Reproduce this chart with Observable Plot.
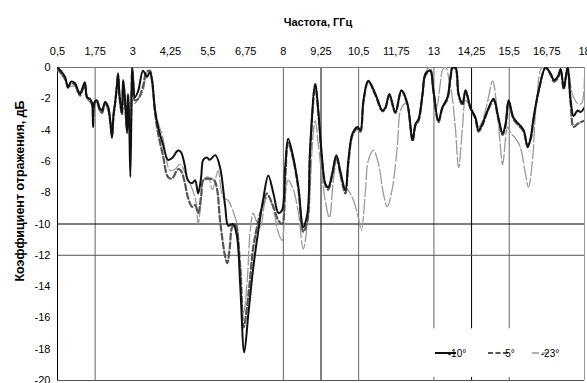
<!DOCTYPE html>
<html><head><meta charset="utf-8">
<script src="https://cdn.jsdelivr.net/npm/d3@7"></script>
<script src="https://cdn.jsdelivr.net/npm/@observablehq/plot@0.6"></script>
<style>body{margin:0;background:#fff;} #chart{width:587px;height:383px;overflow:hidden;}</style>
</head><body><div id="chart"></div>
<script>
const xTitle = "Частота, ГГц";
const yTitle = "Коэффициент отражения, дБ";
const xTicks = [0.5,1.75,3,4.25,5.5,6.75,8,9.25,10.5,11.75,13,14.25,15.5,16.75,18];
const yTicks = [0,-2,-4,-6,-8,-10,-12,-14,-16,-18,-20];
const hGrid = [-10,-12];
const vGridFull = [1.75,8,9.25,10.5];
const vGridPart = [13,14.25,15.5];
const seriesNames = ["-10°","5°","-23°"];

const s10 = [[0.5,0],[0.6,-0.2],[0.75,-0.6],[0.85,-1.3],[0.95,-0.9],[1.08,-1.0],[1.17,-1.4],[1.25,-1.7],[1.33,-1.3],[1.41,-0.95],[1.48,-1.9],[1.57,-2.0],[1.65,-2.3],[1.68,-3.8],[1.73,-2.2],[1.81,-2.1],[1.9,-2.6],[1.98,-2.75],[2.08,-2.2],[2.18,-2.5],[2.25,-3.4],[2.31,-4.5],[2.36,-3.0],[2.41,-2.3],[2.47,-1.2],[2.51,-0.4],[2.56,-1.8],[2.64,-2.9],[2.68,-0.8],[2.74,-2.0],[2.81,-4.2],[2.84,-1.7],[2.88,-3.5],[2.92,-7.0],[2.96,-2.0],[2.98,0],[3.02,-1.0],[3.07,-1.9],[3.18,-1.5],[3.34,-0.2],[3.47,-0.6],[3.57,-0.3],[3.64,-0.8],[3.74,-2.75],[3.84,-3.8],[4.0,-4.9],[4.17,-5.9],[4.3,-5.8],[4.5,-5.3],[4.6,-5.4],[4.72,-6.2],[4.83,-7.2],[4.97,-7.4],[5.07,-7.2],[5.17,-8.05],[5.27,-7.0],[5.34,-5.9],[5.46,-5.75],[5.55,-5.9],[5.74,-5.6],[5.9,-6.4],[6.07,-8.9],[6.17,-10.1],[6.33,-10.0],[6.46,-10.8],[6.57,-14],[6.7,-18.2],[6.84,-15.7],[7.0,-12.8],[7.17,-10.4],[7.34,-8.3],[7.5,-6.9],[7.67,-8.05],[7.84,-9.3],[7.96,-9.1],[8.06,-6.4],[8.16,-4.55],[8.33,-5.75],[8.5,-7.65],[8.66,-10.2],[8.8,-9.3],[8.89,-5.1],[9.06,-1.05],[9.16,-2.75],[9.29,-5.9],[9.39,-7.4],[9.49,-7.65],[9.62,-6.8],[9.76,-5.6],[9.89,-6.6],[10.06,-7.85],[10.16,-5.9],[10.3,-4.2],[10.46,-3.8],[10.56,-4.0],[10.66,-2.1],[10.82,-0.85],[11.06,-1.7],[11.29,-2.75],[11.39,-2.55],[11.52,-1.7],[11.72,-2.85],[11.92,-1.45],[12.12,-2.3],[12.29,-4.65],[12.39,-3.6],[12.49,-3.3],[12.62,-1.7],[12.72,-0.4],[12.88,-0.2],[12.98,-1.45],[13.15,-3.4],[13.28,-2.55],[13.45,-1.9],[13.55,-0.6],[13.62,0],[13.72,0],[13.82,-1.7],[13.95,-2.3],[14.05,-1.45],[14.21,-2.55],[14.38,-3.2],[14.48,-4.0],[14.61,-3.6],[14.78,-2.75],[14.98,-2.0],[15.14,-3.2],[15.28,-4.2],[15.38,-3.6],[15.48,-2.1],[15.64,-3.2],[15.81,-3.6],[15.98,-4.0],[16.11,-5.1],[16.21,-4.5],[16.31,-3.2],[16.48,-1.45],[16.71,0],[16.88,-0.4],[16.98,-0.8],[17.11,-0.6],[17.21,-0.1],[17.31,-1.3],[17.44,0],[17.54,-2.1],[17.64,-3.1],[17.77,-2.75],[17.87,-2.85],[18,-2.55]];

const s5 = [[0.5,-0.1],[0.6,-0.3],[0.75,-0.7],[0.85,-1.2],[0.95,-1.0],[1.08,-1.1],[1.17,-1.5],[1.25,-1.8],[1.33,-1.4],[1.41,-1.1],[1.48,-1.9],[1.57,-2.1],[1.65,-2.4],[1.68,-3.5],[1.73,-2.3],[1.81,-2.2],[1.9,-2.7],[1.98,-2.9],[2.08,-2.3],[2.18,-2.6],[2.25,-3.5],[2.31,-4.3],[2.36,-3.1],[2.41,-2.4],[2.47,-1.3],[2.51,-0.5],[2.56,-1.9],[2.64,-3.0],[2.68,-0.9],[2.74,-2.1],[2.81,-4.0],[2.84,-1.8],[2.88,-3.2],[2.92,-4.2],[2.96,-1.8],[2.98,-0.2],[3.02,-1.2],[3.07,-2.1],[3.18,-2.0],[3.34,-1.2],[3.45,-0.3],[3.57,-0.2],[3.64,-0.9],[3.74,-2.9],[3.84,-4.2],[4.0,-5.6],[4.17,-7.0],[4.3,-7.1],[4.5,-6.5],[4.6,-6.6],[4.72,-7.3],[4.83,-8.3],[4.97,-8.9],[5.07,-8.8],[5.17,-9.3],[5.27,-8.2],[5.34,-7.2],[5.5,-7.1],[5.7,-7.2],[5.8,-7.8],[5.9,-9.8],[6.07,-12.1],[6.14,-12.5],[6.22,-11.5],[6.3,-10.2],[6.4,-10.0],[6.57,-12.8],[6.68,-16.6],[6.84,-14.5],[7.0,-11.5],[7.17,-9.8],[7.34,-8.6],[7.45,-8.05],[7.67,-8.9],[7.84,-9.8],[7.96,-10.0],[8.06,-7.2],[8.16,-4.8],[8.33,-5.9],[8.5,-7.8],[8.66,-10.5],[8.8,-9.8],[8.89,-5.4],[9.06,-1.1],[9.16,-2.9],[9.29,-6.0],[9.39,-7.5],[9.49,-7.8],[9.62,-6.9],[9.76,-5.7],[9.89,-6.8],[10.06,-8.05],[10.16,-6.1],[10.3,-4.3],[10.46,-3.9],[10.56,-4.1],[10.66,-2.2],[10.82,-0.9],[11.06,-1.8],[11.29,-2.8],[11.39,-2.6],[11.52,-1.8],[11.72,-2.9],[11.92,-1.5],[12.12,-2.4],[12.29,-4.7],[12.39,-3.7],[12.49,-3.4],[12.62,-1.8],[12.72,-0.5],[12.88,-0.2],[12.98,-1.5],[13.15,-3.5],[13.28,-2.6],[13.45,-2.0],[13.55,-0.7],[13.62,0],[13.72,-0.1],[13.82,-1.8],[13.95,-2.4],[14.05,-1.5],[14.21,-2.6],[14.38,-3.3],[14.48,-4.1],[14.61,-3.7],[14.78,-2.8],[14.98,-2.1],[15.14,-3.3],[15.28,-4.3],[15.38,-3.7],[15.48,-2.2],[15.64,-3.3],[15.81,-3.7],[15.98,-4.1],[16.11,-5.0],[16.21,-4.6],[16.31,-3.3],[16.48,-1.5],[16.71,0],[16.88,-0.5],[16.98,-0.9],[17.11,-0.7],[17.21,-0.2],[17.31,-1.4],[17.44,0],[17.54,-2.3],[17.64,-3.8],[17.77,-3.6],[17.87,-3.5],[18,-3.4]];

const s23 = [[0.5,-0.2],[0.6,-0.4],[0.75,-0.8],[0.85,-1.1],[0.95,-1.2],[1.08,-1.2],[1.17,-1.6],[1.25,-1.6],[1.33,-1.5],[1.41,-1.3],[1.48,-2.0],[1.57,-2.2],[1.65,-2.2],[1.68,-3.0],[1.73,-2.5],[1.81,-2.3],[1.9,-2.8],[1.98,-2.6],[2.08,-2.4],[2.18,-2.8],[2.25,-3.2],[2.31,-3.8],[2.36,-3.3],[2.41,-2.1],[2.47,-1.0],[2.51,-0.3],[2.56,-2.0],[2.64,-2.7],[2.68,-1.0],[2.74,-2.3],[2.81,-3.8],[2.84,-2.0],[2.88,-2.8],[2.92,-1.8],[2.96,-1.2],[2.98,0],[3.02,-1.4],[3.07,-2.3],[3.18,-2.0],[3.34,-1.5],[3.45,-0.5],[3.57,-0.3],[3.64,-1.0],[3.74,-2.6],[3.84,-3.5],[4.0,-4.5],[4.24,-6.6],[4.4,-6.5],[4.57,-6.2],[4.8,-7.0],[5.0,-7.9],[5.1,-8.6],[5.17,-10.0],[5.27,-8.5],[5.34,-7.2],[5.5,-7.0],[5.65,-7.8],[5.83,-6.6],[6.0,-8.3],[6.17,-8.5],[6.35,-9.3],[6.46,-10.0],[6.57,-13.6],[6.68,-15.7],[6.8,-13.6],[6.9,-10.4],[7.0,-9.3],[7.1,-9.8],[7.23,-10.2],[7.4,-8.5],[7.5,-8.2],[7.67,-9.1],[7.84,-10.6],[7.96,-11.05],[8.06,-8.3],[8.16,-7.2],[8.33,-7.8],[8.5,-9.3],[8.66,-11.6],[8.83,-9.3],[9.0,-4.0],[9.06,-3.4],[9.16,-4.9],[9.39,-8.5],[9.53,-9.6],[9.66,-7.2],[9.79,-5.8],[9.96,-7.4],[10.16,-7.85],[10.33,-8.5],[10.49,-9.6],[10.59,-10.4],[10.72,-8.05],[10.82,-5.95],[10.99,-5.3],[11.16,-6.15],[11.32,-8.05],[11.45,-8.9],[11.62,-7.7],[11.79,-4.9],[11.89,-2.75],[12.05,-2.3],[12.12,-2.4],[12.29,-4.4],[12.39,-3.6],[12.49,-3.3],[12.62,-1.6],[12.72,-0.3],[12.88,0],[12.98,-1.2],[13.1,-2.5],[13.2,-1.2],[13.3,-0.1],[13.4,0],[13.5,-0.8],[13.6,-1.8],[13.71,-3.8],[13.82,-6.4],[13.95,-3.8],[14.05,-2.1],[14.21,-2.6],[14.38,-3.2],[14.48,-3.8],[14.61,-3.4],[14.78,-2.2],[14.95,-0.85],[15.1,-2.75],[15.2,-4.9],[15.28,-6.2],[15.45,-3.8],[15.55,-4.2],[15.7,-4.5],[15.87,-5.1],[16.04,-6.8],[16.14,-7.65],[16.27,-6.0],[16.4,-2.3],[16.6,0],[16.88,-0.4],[16.98,-0.8],[17.11,-0.6],[17.21,-0.1],[17.31,-1.3],[17.44,0],[17.6,-1.7],[17.77,-2.3],[17.9,-2.3],[18,-0.6]];

const fmtComma = d => String(d).replace(".", ",");
const lineOpts = {x: d => d[0], y: d => d[1], curve: "catmull-rom", clip: true};

const plot = Plot.plot({
  width: 587, height: 383,
  marginLeft: 57, marginRight: 3, marginTop: 67, marginBottom: 3,
  style: {fontFamily: "'Liberation Sans', Arial, sans-serif", fontSize: "11px", color: "#000", background: "#fff", overflow: "visible"},
  x: {domain: [0.5, 18]},
  y: {domain: [-20, 0]},
  marks: [
    Plot.axisX({anchor: "top", ticks: xTicks, tickSize: 0, tickPadding: 13, tickFormat: fmtComma, label: null}),
    Plot.axisY({ticks: yTicks, tickSize: 0, tickPadding: 7, tickFormat: d => String(d), label: null}),
    Plot.ruleX(vGridFull, {stroke: (d) => d === 9.25 ? "#000" : "#666", strokeWidth: 1}),
    Plot.ruleX(vGridPart, {y1: 0, y2: -16.7, stroke: d => d === 14.25 ? "#000" : "#666"}),
    Plot.ruleX(vGridPart, {y1: -19.8, y2: -20, stroke: d => d === 14.25 ? "#000" : "#666"}),
    Plot.ruleY(hGrid, {stroke: d => d === -10 ? "#000" : "#555"}),
    Plot.ruleY([0], {stroke: "#777"}),
    Plot.ruleY([-20], {stroke: "#555"}),
    Plot.ruleX([0.5], {stroke: "#000"}),
    Plot.ruleX([18], {stroke: "#999"}),
    Plot.line(s23, {...lineOpts, stroke: "#9a9a9a", strokeWidth: 1.3, strokeDasharray: "14,3"}),
    Plot.line(s5, {...lineOpts, stroke: "#555", strokeWidth: 2.2, strokeDasharray: "6,3"}),
    Plot.line(s10, {...lineOpts, stroke: "#111", strokeWidth: 2})
  ]
});
document.getElementById("chart").appendChild(plot);

const svg = d3.select(plot);
svg.append("text").attr("x", 318).attr("y", 26).attr("text-anchor", "middle")
  .attr("font-weight", "bold").attr("font-size", 11).text(xTitle);
svg.append("text").attr("transform", "translate(24,191) rotate(-90)").attr("text-anchor", "middle")
  .attr("font-weight", "bold").attr("font-size", 12.5).text(yTitle);

const leg = svg.append("g").attr("font-size", 10);
const legItems = [
  {x1: 435, x2: 456, tx: 457, stroke: "#111", w: 2, dash: null},
  {x1: 488, x2: 509, tx: 510, stroke: "#555", w: 2, dash: "5,2.5"},
  {x1: 532, x2: 549, tx: 550, stroke: "#9a9a9a", w: 1.5, dash: "7,3"}
];
legItems.forEach((it, i) => {
  leg.append("line").attr("x1", it.x1).attr("x2", it.x2).attr("y1", 353).attr("y2", 353)
    .attr("stroke", it.stroke).attr("stroke-width", it.w).attr("stroke-dasharray", it.dash);
  leg.append("text").attr("x", it.tx).attr("y", 357).text(seriesNames[i]);
});
</script>
</body></html>
